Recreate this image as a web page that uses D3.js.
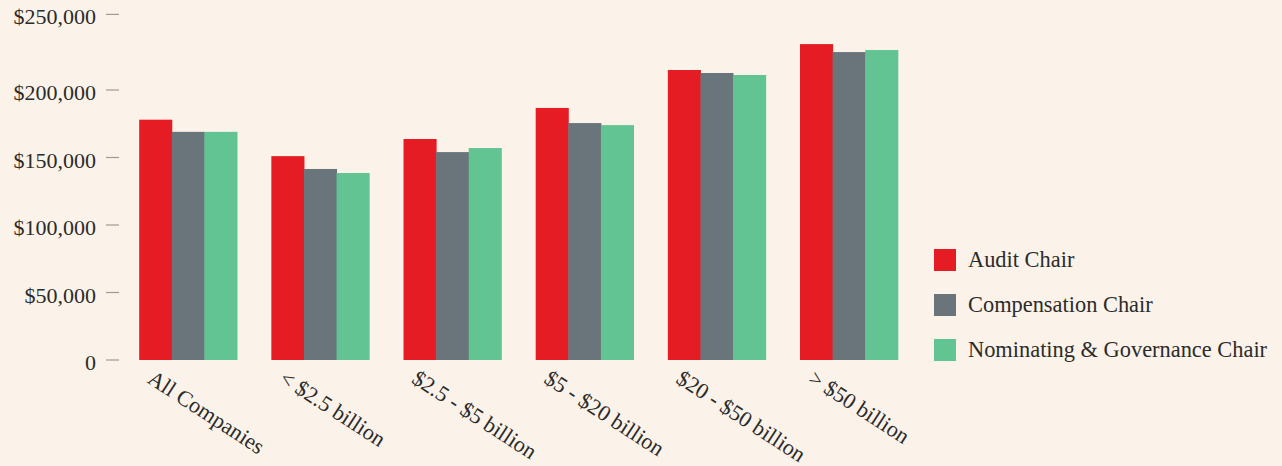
<!DOCTYPE html>
<html><head><meta charset="utf-8">
<script src="https://cdn.jsdelivr.net/npm/d3@7"></script>
<style>
html,body{margin:0;padding:0;background:#FBF3E9;}
svg{display:block;}
text{font-family:"Liberation Serif","Times New Roman",serif;fill:#2b2b2b;}
</style></head>
<body><svg id="c" width="1282" height="466"></svg>
<script>
const categories = ["All Companies", "< $2.5 billion", "$2.5 - $5 billion", "$5 - $20 billion", "$20 - $50 billion", "> $50 billion"];
const seriesNames = ["Audit Chair", "Compensation Chair", "Nominating & Governance Chair"];
const auditChair = [178000, 151000, 163700, 186700, 214800, 234000];
const compensationChair = [169000, 141500, 154000, 175500, 212600, 228100];
const nominatingChair = [169000, 138500, 157000, 174000, 211100, 229600];
const tickValues = [0, 50000, 100000, 150000, 200000, 256000];
const tickLabels = ["0", "$50,000", "$100,000", "$150,000", "$200,000", "$250,000"];
const colors = ["#E51C23", "#69747B", "#62C393"];

const series = [auditChair, compensationChair, nominatingChair];
const svg = d3.select("#c");
svg.append("rect").attr("width",1282).attr("height",466).attr("fill","#FBF3E9");

const y = d3.scaleLinear().domain([0, 200000]).range([360, 90]);
const x0 = d3.scaleBand().domain(categories).range([122, 915]).paddingInner(0.26).paddingOuter(0.13);
const x1 = d3.scaleBand().domain(seriesNames).range([0, x0.bandwidth()]);

// y axis
const yAxis = svg.append("g");
tickValues.forEach((v, i) => {
  const g = yAxis.append("g").attr("transform", `translate(0,${y(v)})`);
  g.append("line").attr("x1", 106).attr("x2", 119).attr("stroke", "#a09a94").attr("stroke-width", 1.2);
  g.append("text").attr("x", 96).attr("y", 10).attr("text-anchor", "end").attr("font-size", 22).text(tickLabels[i]);
});

// bars
const groups = svg.append("g").selectAll("g").data(categories).join("g")
  .attr("transform", d => `translate(${x0(d)},0)`);
groups.selectAll("rect").data((d, ci) => series.map((s, si) => ({name: seriesNames[si], v: s[ci], si})))
  .join("rect")
  .attr("x", d => x1(d.name))
  .attr("y", d => y(d.v))
  .attr("width", x1.bandwidth() + 0.5)
  .attr("height", d => y(0) - y(d.v))
  .attr("fill", d => colors[d.si]);

// x labels
svg.append("g").selectAll("text").data(categories).join("text")
  .attr("transform", d => `translate(${x0(d) + 7},${382}) rotate(33)`)
  .attr("font-size", 22.2)
  .attr("text-anchor", "start")
  .text(d => d);

// legend
const leg = svg.append("g").attr("transform", "translate(934,249)");
seriesNames.forEach((n, i) => {
  const g = leg.append("g").attr("transform", `translate(0,${i * 45})`);
  g.append("rect").attr("width", 22).attr("height", 22).attr("fill", colors[i]);
  g.append("text").attr("x", 34).attr("y", 18).attr("font-size", 22.4).text(n);
});
</script></body></html>
